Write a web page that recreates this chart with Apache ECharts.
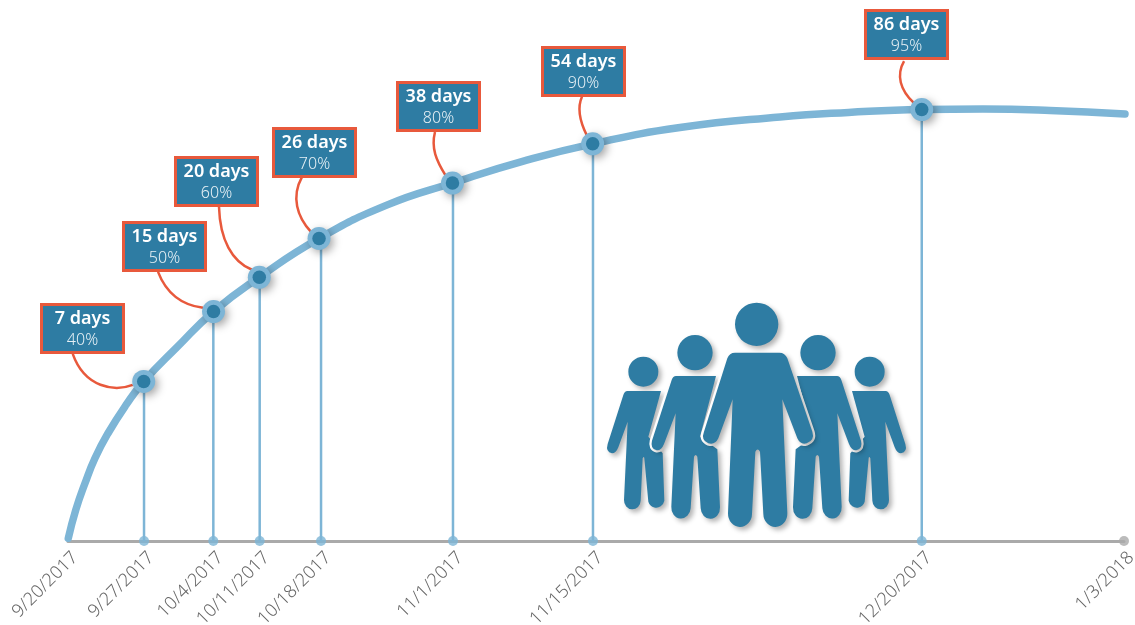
<!DOCTYPE html>
<html>
<head>
<meta charset="utf-8">
<style>html,body{margin:0;padding:0;background:#fff}#c{width:1135px;height:625px}</style>
<script src="https://cdn.jsdelivr.net/npm/echarts@6/dist/echarts.min.js"></script>
</head>
<body>
<div id="c"></div>
<script>
// x values: days-like axis units; y values: height units as read
const tickLabels = ['9/20/2017','9/27/2017','10/4/2017','10/11/2017','10/18/2017','11/1/2017','11/15/2017','12/20/2017','1/3/2018'];
const tickPos = [0, 7.56, 14.45, 19.06, 25.16, 38.28, 52.2, 84.89, 105];
const curveX = [0.03,0.77,1.69,2.68,3.98,5.77,7.53,10.84,14.47,19.02,24.96,31.69,38.23,45.2,52.17,60.85,70.8,77.6,84.89,90.98,97.64,105.1];
const curveY = [0.6,6.88,12.8,18.35,23.9,30.17,35.4,43,50.9,58.5,67.1,74.5,79.4,84.2,88.1,91.7,94.05,95.05,95.7,95.8,95.5,94.7];
const pointX = [7.53,14.47,19.02,24.96,38.23,52.17,84.89];
const pointY = [35.4,50.9,58.5,67.1,79.4,88.1,95.7];
const dayLabels = ['7 days','15 days','20 days','26 days','38 days','54 days','86 days'];
const pctLabels = ['40%','50%','60%','70%','80%','90%','95%'];

// callout geometry, offsets from the marker in pixels: box corner, then connector curve
const calloutGeom = [
  {box:[-104,-78.5], c:[-71,-27.5,-59,6.5,-29,10.5,-11,3.5]},
  {box:[-91.5,-90.7], c:[-55.5,-39.7,-45.5,-13.7,-25.5,-5.7,-10.5,-3.7]},
  {box:[-85.3,-121.5], c:[-40.3,-70.5,-39.3,-37.5,-27.3,-15.5,-7.3,-7.5]},
  {box:[-47,-111.7], c:[-17,-61.7,-28,-41.7,-22,-21.7,-8,-6.7]},
  {box:[-56.5,-102], c:[-17.5,-51,-21.5,-35,-16.5,-23,-6.5,-7]},
  {box:[-51.7,-98], c:[-10.7,-47,-15.7,-36,-12.7,-22,-5.7,-8]},
  {box:[-57.7,-100.5], c:[-17.7,-48.5,-25.7,-34.5,-21.7,-19.5,-7.7,-6.5]}
];

const BLUE='#2e7ca3', LIGHT='#7db5d6', RED='#e8593c', GRAY='#aaaaaa';
const FONT='"Noto Sans","Open Sans",sans-serif';

const head=(x,y,r)=>`M${x-r} ${y}A${r} ${r} 0 1 0 ${x+r} ${y}A${r} ${r} 0 1 0 ${x-r} ${y}Z `;
const frame='M0 0L0 0M990 750L990 750 ';
const smallFig=frame+head(160,245,45)+'M112 303L213 303L175 440L218 490L223 632A25 27 0 0 1 175 635L163 505Q162 497 158 505L152 632A25 27 0 0 1 102 630L113 395L85 472Q78 490 66 490Q46 486 53 462L100 315Q104 303 112 303Z';
const medFig=frame+head(315,188,53)+'M258 258L378 258L330 440L382 478L390 652A29 33 0 0 1 332 655L322 500Q317 490 312 500L302 655A29 33 0 0 1 244 650L257 370L222 462Q214 482 200 481Q180 476 186 452L245 270Q249 258 258 258Z';
const bigFig=frame+head(500,103,65)+'M435 188L568 188Q585 188 592 205L667 425Q675 450 650 460Q632 466 622 445L577 328L592 670A36 40 0 0 1 520 672L510 485Q503 472 496 485L486 672A36 40 0 0 1 414 670L428 328L385 445Q375 466 355 460Q332 450 342 425L412 205Q418 188 435 188Z';

function figEls(d, halo){
  const rect={x:0,y:0,width:330,height:250,layout:'cover'};
  const els=[];
  if(halo) els.push({type:'path',shape:Object.assign({pathData:d},rect),style:{fill:'#fff',stroke:'#fff',lineWidth:4.5,lineJoin:'round'}});
  els.push({type:'path',shape:Object.assign({pathData:d},rect),style:{fill:BLUE,shadowColor:'rgba(0,0,0,0.3)',shadowBlur:5,shadowOffsetX:3,shadowOffsetY:3}});
  return els;
}

const option={
  animation:false,
  backgroundColor:'#fff',
  grid:{left:68,right:11,top:0,bottom:84,outerBoundsMode:'none'},
  xAxis:{type:'value',min:0,max:105,splitLine:{show:false},
    axisLine:{show:true,onZero:false,lineStyle:{color:GRAY,width:3}},
    axisTick:{show:false},
    axisLabel:{customValues:tickPos,rotate:45,margin:21,padding:[0,-10,0,0],fontFamily:FONT,fontSize:18,color:'#666',fontWeight:300,
      formatter:v=>tickLabels[tickPos.indexOf(v)]}},
  yAxis:{type:'value',min:0,max:120,show:false},
  series:[
    {type:'custom',z:1,silent:true,clip:false,
     data:pointY.map((y,i)=>[tickPos[i+1],y]),
     renderItem(p,api){
       const a=api.coord([api.value(0),0]),b=api.coord([api.value(0),api.value(1)]);
       return {type:'line',shape:{x1:a[0],y1:a[1],x2:b[0],y2:b[1]},style:{stroke:LIGHT,lineWidth:2.5}};
     }},
    {type:'scatter',z:3,silent:true,symbol:'circle',symbolSize:10,clip:false,
     data:tickPos.slice(1).map((x,i)=>({value:[x,0],itemStyle:{color:i===tickPos.length-2?GRAY:LIGHT}}))},
    {type:'line',z:2,silent:true,clip:false,smooth:0.5,symbol:'none',
     data:curveX.map((x,i)=>[x,curveY[i]]),
     lineStyle:{color:LIGHT,width:7.5,cap:'round'}},
    {type:'custom',z:3,silent:true,clip:false,
     data:pointX.map((x,i)=>[x,pointY[i]]),
     renderItem(p,api){
       const i=p.dataIndex,o=api.coord([api.value(0),api.value(1)]),g=calloutGeom[i],c=g.c;
       const bx=Math.round(o[0]+g.box[0]),by=Math.round(o[1]+g.box[1]);
       return {type:'group',children:[
         {type:'bezierCurve',shape:{x1:o[0]+c[0],y1:o[1]+c[1],cpx1:o[0]+c[2],cpy1:o[1]+c[3],cpx2:o[0]+c[4],cpy2:o[1]+c[5],x2:o[0]+c[6],y2:o[1]+c[7]},
          style:{stroke:RED,lineWidth:2.5,fill:null}},
         {type:'rect',shape:{x:bx+1.5,y:by+1.5,width:82,height:48},style:{fill:BLUE,stroke:RED,lineWidth:3}},
         {type:'text',x:bx+42.5,y:by+16,style:{text:dayLabels[i],fill:'#fff',font:'600 18px '+FONT,textAlign:'center',textVerticalAlign:'middle'}},
         {type:'text',x:bx+42.5,y:by+37,style:{text:pctLabels[i],fill:'#e6f0f5',font:'300 16px '+FONT,textAlign:'center',textVerticalAlign:'middle'}}
       ]};
     }},
    {type:'scatter',z:4,silent:true,symbol:'circle',symbolSize:23,clip:false,
     data:pointX.map((x,i)=>[x,pointY[i]]),
     itemStyle:{color:LIGHT,opacity:1,shadowColor:'rgba(0,0,0,0.35)',shadowBlur:9,shadowOffsetX:3,shadowOffsetY:3}},
    {type:'scatter',z:4,silent:true,symbol:'circle',symbolSize:13.5,clip:false,
     data:pointX.map((x,i)=>[x,pointY[i]]),
     itemStyle:{color:BLUE,opacity:1}},
    {type:'custom',coordinateSystem:'none',z:5,silent:true,data:[0],
     renderItem(){
       return {type:'group',children:[
         {type:'group',x:590,y:290,children:figEls(smallFig,false)},
         {type:'group',x:923,y:290,scaleX:-1,children:figEls(smallFig,false)},
         {type:'group',x:590,y:290,children:figEls(medFig,true)},
         {type:'group',x:923,y:290,scaleX:-1,children:figEls(medFig,true)},
         {type:'group',x:590,y:290,children:figEls(bigFig,true)}
       ]};
     }}
  ]
};
const chart=echarts.init(document.getElementById('c'),null,{renderer:'canvas'});
chart.setOption(option);
</script>
</body>
</html>
